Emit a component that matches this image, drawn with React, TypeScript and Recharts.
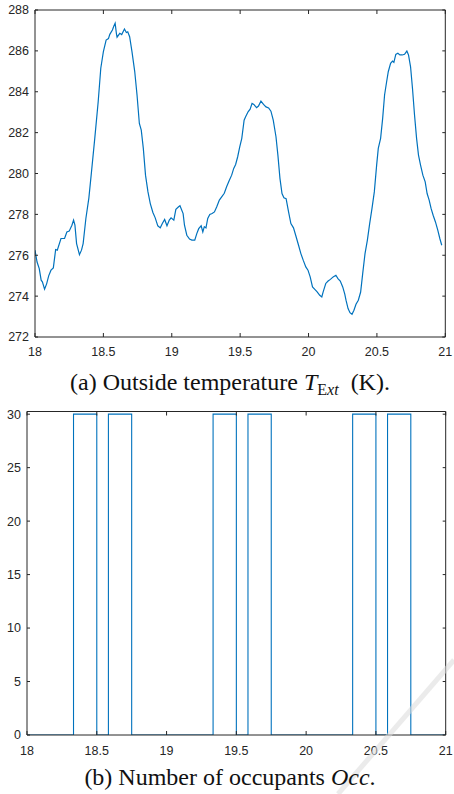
import React from 'react';
import { LineChart, Line, XAxis, YAxis } from 'recharts';

const tempTimes = [
  18.0, 18.015, 18.031, 18.045, 18.054, 18.07, 18.085, 18.1, 18.117, 18.134, 18.151, 18.163, 18.19, 18.216, 18.233,
  18.25, 18.27, 18.282, 18.292, 18.304, 18.325, 18.34, 18.352, 18.372, 18.394, 18.413, 18.437, 18.462, 18.481, 18.5,
  18.52, 18.537, 18.547, 18.566, 18.576, 18.586, 18.595, 18.6, 18.62, 18.634, 18.654, 18.668, 18.678, 18.692, 18.709,
  18.729, 18.746, 18.763, 18.777, 18.792, 18.808, 18.826, 18.843, 18.862, 18.879, 18.898, 18.916, 18.931, 18.948, 18.965,
  18.982, 18.995, 19.015, 19.03, 19.05, 19.06, 19.083, 19.093, 19.11, 19.13, 19.147, 19.168, 19.183, 19.197, 19.215,
  19.227, 19.238, 19.25, 19.263, 19.278, 19.295, 19.312, 19.329, 19.348, 19.365, 19.384, 19.401, 19.421, 19.438, 19.453,
  19.467, 19.482, 19.497, 19.512, 19.529, 19.54, 19.558, 19.573, 19.587, 19.6, 19.62, 19.634, 19.652, 19.671, 19.689,
  19.708, 19.725, 19.742, 19.762, 19.776, 19.791, 19.806, 19.82, 19.836, 19.854, 19.871, 19.89, 19.906, 19.927, 19.944,
  19.961, 19.98, 19.996, 20.012, 20.029, 20.046, 20.063, 20.082, 20.097, 20.107, 20.126, 20.143, 20.16, 20.18, 20.2,
  20.215, 20.232, 20.25, 20.265, 20.274, 20.289, 20.303, 20.318, 20.332, 20.347, 20.364, 20.381, 20.396, 20.413, 20.43,
  20.447, 20.464, 20.481, 20.498, 20.51, 20.527, 20.542, 20.556, 20.571, 20.583, 20.6, 20.614, 20.624, 20.638, 20.653,
  20.668, 20.685, 20.702, 20.719, 20.731, 20.746, 20.76, 20.775, 20.79, 20.804, 20.819, 20.836, 20.853, 20.867, 20.882,
  20.896, 20.911, 20.928, 20.945, 20.96, 20.974,
];

const tempValues = [
  276.25, 275.67, 275.35, 274.78, 274.7, 274.34, 274.6, 274.99, 275.27, 275.38, 276.28, 276.25, 276.82, 276.82, 277.14,
  277.18, 277.47, 277.72, 277.47, 276.57, 276.03, 276.25, 276.57, 277.8, 278.81, 280.08, 281.72, 283.51, 285.15, 285.96,
  286.53, 286.6, 286.81, 287.02, 287.2, 287.35, 286.86, 286.67, 286.86, 286.8, 287.07, 286.9, 286.93, 286.69, 285.96,
  285.0, 283.84, 282.45, 282.12, 281.23, 279.92, 279.1, 278.53, 278.09, 277.83, 277.44, 277.34, 277.55, 277.75, 277.44,
  277.72, 277.83, 277.72, 278.25, 278.37, 278.42, 278.04, 277.47, 276.98, 276.79, 276.74, 276.74, 277.06, 277.3, 277.44,
  277.14, 277.4, 277.34, 277.8, 278.0, 278.04, 278.12, 278.37, 278.7, 278.86, 279.03, 279.35, 279.67, 279.92, 280.25,
  280.44, 280.82, 281.3, 281.72, 282.61, 282.78, 283.02, 283.15, 283.43, 283.38, 283.22, 283.3, 283.54, 283.38, 283.26,
  283.21, 283.05, 282.61, 281.8, 280.9, 279.76, 279.02, 278.81, 278.77, 278.12, 277.55, 277.34, 276.98, 276.49, 276.08,
  275.76, 275.43, 275.27, 274.94, 274.45, 274.33, 274.21, 274.04, 273.96, 274.21, 274.62, 274.74, 274.82, 274.94, 275.02,
  274.86, 274.74, 274.45, 274.1, 273.8, 273.39, 273.19, 273.11, 273.31, 273.6, 273.8, 274.2, 275.1, 276.08, 276.73,
  277.55, 278.29, 279.1, 280.41, 281.23, 281.72, 282.7, 283.84, 284.49, 284.98, 285.39, 285.5, 285.44, 285.83, 285.88,
  285.8, 285.8, 285.83, 285.99, 285.8, 285.22, 284.17, 282.86, 281.72, 280.9, 280.41, 279.92, 279.59, 279.02, 278.7,
  278.29, 277.96, 277.63, 277.23, 276.82, 276.49,
];

const occTimes = [18, 18.3333, 18.5, 18.5833, 18.75, 19.3333, 19.5, 19.5833, 19.75, 20.3333, 20.5, 20.5833, 20.75, 21];
const occValues = [0, 30, 0, 30, 0, 30, 0, 30, 0, 30, 0, 30, 0, 0];

const dayTicks = [18, 18.5, 19, 19.5, 20, 20.5, 21];
const tempTicks = [272, 274, 276, 278, 280, 282, 284, 286, 288];
const occTicks = [0, 5, 10, 15, 20, 25, 30];

const tempData = tempTimes.map((t, i) => ({ t, v: tempValues[i] }));
const occData = occTimes.map((t, i) => ({ t, v: occValues[i] }));

const AX = '#262626';
const LINE = '#0072BD';
const tickFont = { fill: AX, fontSize: 12.5, fontFamily: '"Liberation Sans", Arial, sans-serif' };
const serif = { fontFamily: "'Liberation Serif', 'Times New Roman', serif" };
const noLabel = () => <g />;

export default function App() {
  return (
    <div style={{ position: 'absolute', left: 0, top: 0, width: 454, height: 794, background: '#fff', overflow: 'hidden' }}>
      <div style={{ position: 'absolute', left: 0, top: 0 }}>
        <LineChart width={454} height={365} data={tempData} margin={{ top: 9, right: 7.7, left: 0, bottom: 0 }}>
          <XAxis
            xAxisId="b"
            dataKey="t"
            type="number"
            domain={[18, 21]}
            ticks={dayTicks}
            allowDataOverflow
            height={28}
            stroke={AX}
            tickSize={-4}
            tickMargin={14}
            tick={tickFont}
          />
          <XAxis
            xAxisId="top"
            orientation="top"
            dataKey="t"
            type="number"
            domain={[18, 21]}
            ticks={dayTicks}
            allowDataOverflow
            height={1}
            stroke={AX}
            tickSize={-4}
            tick={noLabel}
          />
          <YAxis
            yAxisId="l"
            type="number"
            domain={[272, 288]}
            ticks={tempTicks}
            allowDataOverflow
            width={35}
            stroke={AX}
            tickSize={-3}
            tickMargin={9}
            tick={tickFont}
          />
          <YAxis
            yAxisId="r"
            orientation="right"
            type="number"
            domain={[272, 288]}
            ticks={tempTicks}
            allowDataOverflow
            width={1}
            stroke={AX}
            tickSize={-3}
            tick={noLabel}
          />
          <Line
            xAxisId="b"
            yAxisId="l"
            dataKey="v"
            stroke={LINE}
            strokeWidth={1.2}
            dot={false}
            isAnimationActive={false}
          />
        </LineChart>
      </div>

      <div style={{ position: 'absolute', left: 0, top: 400 }}>
        <LineChart width={454} height={363} data={occData} margin={{ top: 10.5, right: 7.3, left: 0, bottom: 0 }}>
          <XAxis
            xAxisId="b"
            dataKey="t"
            type="number"
            domain={[18, 21]}
            ticks={dayTicks}
            allowDataOverflow
            height={28}
            stroke={AX}
            tickSize={-4}
            tickMargin={15}
            tick={tickFont}
          />
          <XAxis
            xAxisId="top"
            orientation="top"
            dataKey="t"
            type="number"
            domain={[18, 21]}
            ticks={dayTicks}
            allowDataOverflow
            height={1}
            stroke={AX}
            tickSize={-4}
            tick={noLabel}
          />
          <YAxis
            yAxisId="l"
            type="number"
            domain={[0, 30.25]}
            ticks={occTicks}
            allowDataOverflow
            width={27}
            stroke={AX}
            tickSize={-3}
            tickMargin={9}
            tick={tickFont}
          />
          <YAxis
            yAxisId="r"
            orientation="right"
            type="number"
            domain={[0, 30.25]}
            ticks={occTicks}
            allowDataOverflow
            width={1}
            stroke={AX}
            tickSize={-3}
            tick={noLabel}
          />
          <Line
            xAxisId="b"
            yAxisId="l"
            type="stepAfter"
            dataKey="v"
            stroke={LINE}
            strokeWidth={1.1}
            dot={false}
            isAnimationActive={false}
          />
        </LineChart>
      </div>

      <svg width={454} height={794} style={{ position: 'absolute', left: 0, top: 0, pointerEvents: 'none' }}>
        <line x1={338} y1={794} x2={454} y2={660} stroke="#dcdcdc" strokeWidth={5} opacity={0.55} />
        <text x={230} y={390} textAnchor="middle" fill="#111" fontSize={24} style={serif}>
          (a) Outside temperature{' '}
          <tspan fontStyle="italic">T</tspan>
          <tspan fontSize={16} dy={5}>E</tspan>
          <tspan fontSize={16} fontStyle="italic">xt</tspan>
          <tspan dy={-5}>{'\u00a0\u00a0(K).'}</tspan>
        </text>
        <text x={230} y={785} textAnchor="middle" fill="#111" fontSize={24} style={serif}>
          (b) Number of occupants <tspan fontStyle="italic">Occ</tspan>.
        </text>
      </svg>
    </div>
  );
}
